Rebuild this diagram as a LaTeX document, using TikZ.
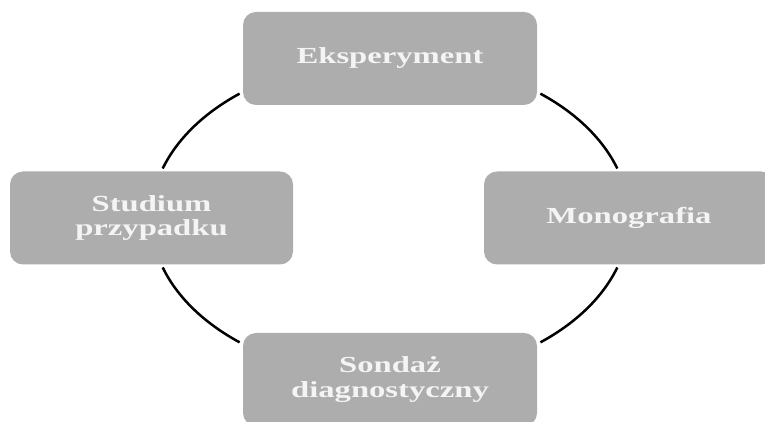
\documentclass[tikz,border=0pt]{standalone}
\usepackage{fontspec}
\setmainfont{Liberation Serif}[FakeStretch=1.42]
\usepackage{tikz}
\definecolor{boxgray}{RGB}{173,173,173}
\definecolor{labelwhite}{RGB}{244,244,244}

\begin{document}
\begin{tikzpicture}[x=1pt, y=1pt,
            box/.style={fill=boxgray, rectangle, rounded corners=13pt, minimum width=294pt, minimum height=93pt, align=center,
                        text=labelwhite, font=\fontsize{23}{24.5}\selectfont\bfseries},
            ring/.style={line width=2.5pt}]
            \useasboundingbox (0,0) rectangle (765,422);
            \coordinate (hub) at (390,204);

            \node[box] (eksp) at (390,363.5) {Eksperyment};
            \node[box, minimum width=290pt] (mono) at (629,204) {Monografia};
            \node[box] (sond) at (390,42.5) {Sondaż\\diagnostyczny};
            \node[box, minimum width=283pt] (stud) at (151.5,204) {Studium\\przypadku};

            \draw[ring] (hub) ++(18:239 and 160) arc[start angle=18, end angle=51, x radius=239, y radius=160];
            \draw[ring] (hub) ++(129:239 and 160) arc[start angle=129, end angle=162, x radius=239, y radius=160];
            \draw[ring] (hub) ++(198:239 and 160) arc[start angle=198, end angle=231, x radius=239, y radius=160];
            \draw[ring] (hub) ++(309:239 and 160) arc[start angle=309, end angle=342, x radius=239, y radius=160];
        \end{tikzpicture}
\end{document}
